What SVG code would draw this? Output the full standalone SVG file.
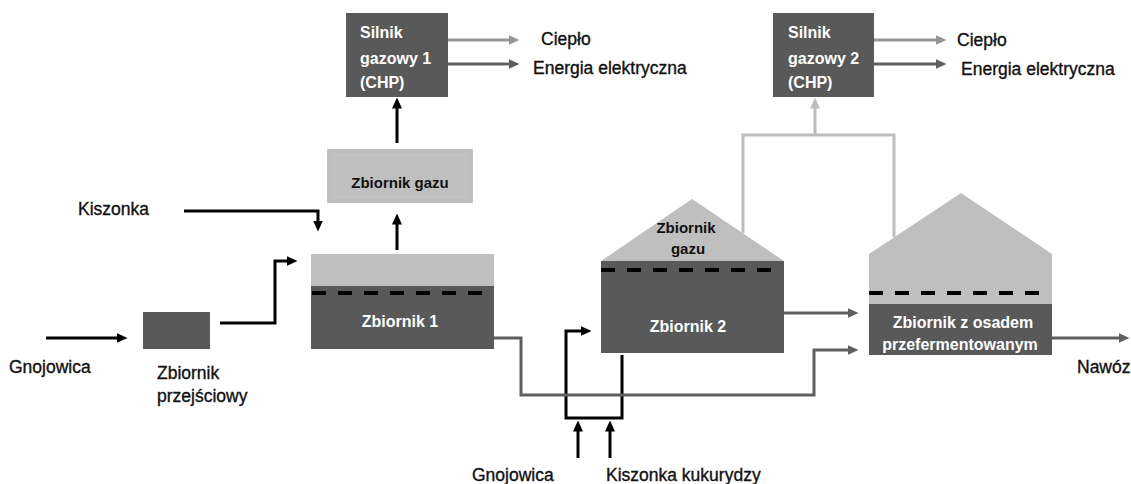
<svg xmlns="http://www.w3.org/2000/svg" width="1131" height="484" viewBox="0 0 1131 484">
  <defs>
    <marker id="ah-k" viewBox="0 0 11 10" markerWidth="11" markerHeight="10" refX="0.5" refY="5" orient="auto" markerUnits="userSpaceOnUse">
      <path d="M0,0 L11,5 L0,10 z" fill="#000"/>
    </marker>
    <marker id="ah-g" viewBox="0 0 11 10" markerWidth="11" markerHeight="10" refX="0.5" refY="5" orient="auto" markerUnits="userSpaceOnUse">
      <path d="M0,0 L11,5 L0,10 z" fill="#5f5f5f"/>
    </marker>
    <marker id="ah-m" viewBox="0 0 11 10" markerWidth="11" markerHeight="10" refX="0.5" refY="5" orient="auto" markerUnits="userSpaceOnUse">
      <path d="M0,0 L11,5 L0,10 z" fill="#959595"/>
    </marker>
    <marker id="ah-l" viewBox="0 0 11 10" markerWidth="11" markerHeight="10" refX="0.5" refY="5" orient="auto" markerUnits="userSpaceOnUse">
      <path d="M0,0 L11,5 L0,10 z" fill="#bdbdbd"/>
    </marker>
  </defs>
  <style>
    .dark { fill: #595959; }
    .light { fill: #bfbfbf; }
    .level { stroke: #000; stroke-width: 4; stroke-dasharray: 14 12; fill: none; }
    .lbl { font-family: "Liberation Sans", Arial, sans-serif; font-size: 17.5px; fill: #111; stroke: #111; stroke-width: 0.35; }
    .wt { font-family: "Liberation Sans", Arial, sans-serif; font-size: 16px; font-weight: bold; fill: #fff; }
    .bt { font-family: "Liberation Sans", Arial, sans-serif; font-size: 15px; font-weight: bold; fill: #111; }
    .k { stroke: #000; stroke-width: 3; fill: none; marker-end: url(#ah-k); }
    .g { stroke: #5f5f5f; stroke-width: 3; fill: none; marker-end: url(#ah-g); }
    .m { stroke: #959595; stroke-width: 3; fill: none; marker-end: url(#ah-m); }
    .l { stroke: #bdbdbd; stroke-width: 3; fill: none; }
    .la { stroke: #bdbdbd; stroke-width: 3; fill: none; marker-end: url(#ah-l); }
  </style>
  <rect width="1131" height="484" fill="#fff"/>

  <!-- connectors -->
  <g id="connectors">
    <path class="k" d="M46,338 H117"/>
    <path class="k" d="M220,323 H275 V261 H287"/>
    <path class="k" d="M184,211 H318 V221"/>
    <path class="k" d="M397,250 V224"/>
    <path class="k" d="M397,143 V108"/>
    <path class="k" d="M578,458 V431"/>
    <path class="k" d="M610,458 V431"/>
    <path class="k" d="M622,355 V418 H566 V331 H581"/>
    <path class="g" d="M494,338 H521 V395 H814 V350 H848"/>
    <path class="g" d="M784,313 H848"/>
    <path class="g" d="M1052,338 H1119"/>
    <path class="g" d="M448,64 H509"/>
    <path class="g" d="M874,64 H936"/>
    <path class="m" d="M448,40 H509"/>
    <path class="m" d="M874,40 H936"/>
    <path class="l" d="M743,233 V135 H894 V237"/>
    <path class="la" d="M815,135 V108"/>
  </g>

  <!-- CHP engine 1 -->
  <g id="silnik-gazowy-1">
    <rect class="dark" x="346" y="13" width="102" height="84"/>
    <text class="wt" x="360" y="38">Silnik</text>
    <text class="wt" x="360" y="64">gazowy 1</text>
    <text class="wt" x="360" y="88">(CHP)</text>
  </g>
  <g id="cieplo-1"><text class="lbl" x="541" y="45">Ciepło</text></g>
  <g id="energia-1"><text class="lbl" x="533" y="74">Energia elektryczna</text></g>

  <!-- CHP engine 2 -->
  <g id="silnik-gazowy-2">
    <rect class="dark" x="773" y="13" width="101" height="84"/>
    <text class="wt" x="788" y="38">Silnik</text>
    <text class="wt" x="788" y="64">gazowy 2</text>
    <text class="wt" x="788" y="88">(CHP)</text>
  </g>
  <g id="cieplo-2"><text class="lbl" x="957" y="46">Ciepło</text></g>
  <g id="energia-2"><text class="lbl" x="961" y="75">Energia elektryczna</text></g>

  <!-- gas holder above tank 1 -->
  <g id="zbiornik-gazu">
    <rect class="light" x="327" y="149" width="146" height="54"/>
    <rect x="334" y="155" width="132" height="42" fill="none" stroke="#c6c6c6" stroke-width="1"/>
    <text class="bt" x="400" y="188" text-anchor="middle">Zbiornik gazu</text>
  </g>

  <!-- feed labels -->
  <g id="kiszonka"><text class="lbl" x="78" y="215">Kiszonka</text></g>
  <g id="gnojowica"><text class="lbl" x="9" y="373">Gnojowica</text></g>

  <!-- buffer tank -->
  <g id="zbiornik-przejsciowy">
    <rect class="dark" x="143" y="312" width="67" height="37"/>
    <text class="lbl" x="157" y="379">Zbiornik</text>
    <text class="lbl" x="157" y="402">przejściowy</text>
  </g>

  <!-- digester 1 -->
  <g id="zbiornik-1">
    <rect class="light" x="311" y="254" width="183" height="32"/>
    <rect class="dark" x="311" y="286" width="183" height="63"/>
    <line class="level" x1="312" y1="293" x2="483" y2="293"/>
    <text class="wt" x="400" y="327" text-anchor="middle" font-size="17">Zbiornik 1</text>
  </g>

  <!-- digester 2 with roof gas holder -->
  <g id="zbiornik-2">
    <polygon class="light" points="601,261 692,199 784,261"/>
    <rect class="dark" x="601" y="261" width="183" height="92"/>
    <line class="level" x1="601" y1="270" x2="772" y2="270"/>
    <text class="bt" x="686" y="233" text-anchor="middle" font-size="15.5">Zbiornik</text>
    <text class="bt" x="688" y="254" text-anchor="middle" font-size="15.5">gazu</text>
    <text class="wt" x="688" y="332" text-anchor="middle" font-size="17">Zbiornik 2</text>
  </g>

  <!-- digestate tank -->
  <g id="zbiornik-osad">
    <polygon class="light" points="869,254 961,193 1052,254 1052,304 869,304"/>
    <rect class="dark" x="869" y="304" width="183" height="51"/>
    <line class="level" x1="869" y1="293" x2="1041" y2="293"/>
    <text class="wt" x="963" y="328" text-anchor="middle" font-size="17">Zbiornik z osadem</text>
    <text class="wt" x="960" y="350" text-anchor="middle" font-size="17.5">przefermentowanym</text>
  </g>
  <g id="nawoz"><text class="lbl" x="1077" y="373">Nawóz</text></g>

  <!-- bottom feeds -->
  <g id="gnojowica-2"><text class="lbl" x="472" y="481">Gnojowica</text></g>
  <g id="kiszonka-kukurydzy"><text class="lbl" x="606" y="481">Kiszonka kukurydzy</text></g>
</svg>
